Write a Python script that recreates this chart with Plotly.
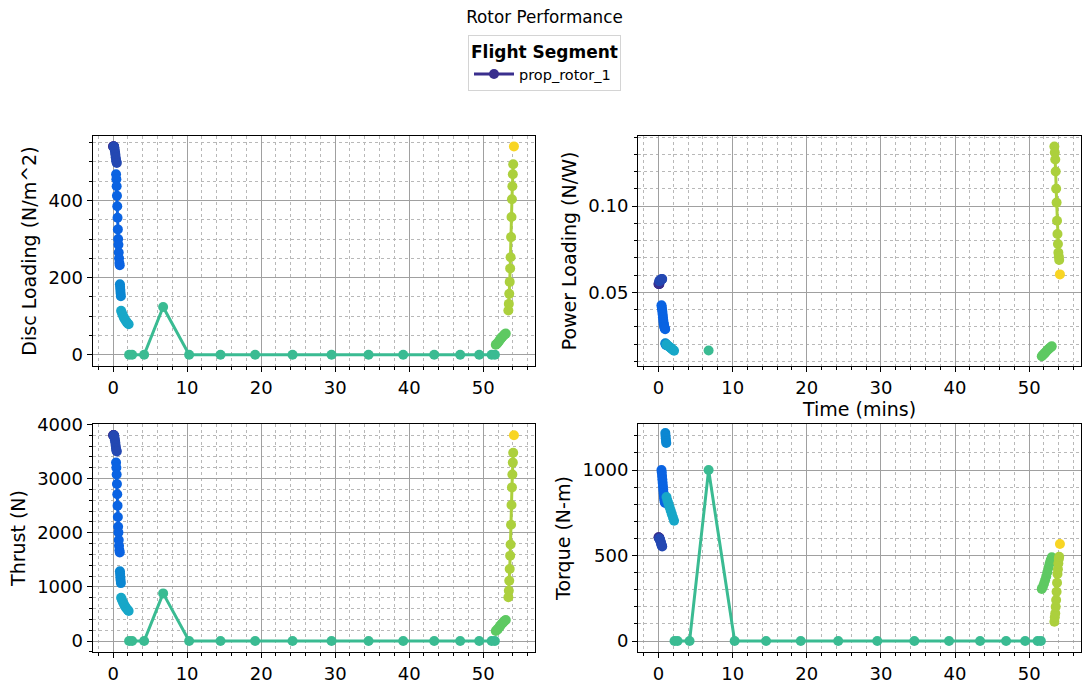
import plotly.graph_objects as go

# ---------------- data ----------------
segment_colors = ["#3a2f8e", "#2448b2", "#0a63e2", "#0b87d2", "#17a7c8",
                  "#3abb92", "#5ec962", "#acd03d", "#f8d523"]

seg_time = [
    [0.0, 0.03, 0.06, 0.09, 0.12],
    [0.10, 0.15, 0.20, 0.25, 0.30, 0.35, 0.40, 0.45, 0.50],
    [0.40, 0.44, 0.48, 0.52, 0.56, 0.60, 0.64, 0.68, 0.72, 0.76, 0.80, 0.85, 0.90],
    [0.92, 0.95, 0.98, 1.01, 1.05],
    [1.08, 1.20, 1.35, 1.50, 1.65, 1.80, 1.95, 2.10],
    [2.16, 2.57, 4.19, 6.76, 10.27, 14.51, 19.19, 24.24, 29.51, 34.51, 39.19,
     43.38, 46.89, 49.46, 51.14, 51.58],
    [51.70, 51.85, 52.00, 52.15, 52.30, 52.45, 52.60, 52.75, 52.90, 53.05],
    [53.40, 53.46, 53.52, 53.58, 53.64, 53.70, 53.76, 53.82, 53.88, 53.94, 54.00, 54.05],
    [54.15],
]

disc_loading = [
    [540, 540, 540, 540, 540],
    [540, 538, 533, 527, 520, 512, 505, 500, 497],
    [468, 455, 437, 412, 385, 355, 325, 300, 285, 265, 250, 238, 232],
    [183, 176, 168, 160, 152],
    [114, 108, 101, 95, 90, 86, 82, 79],
    [0, 0, 0, 124, 0, 0, 0, 0, 0, 0, 0, 0, 0, 0, 0, 0],
    [26, 29, 32, 36, 40, 44, 47, 50, 53, 55],
    [115, 132, 158, 189, 224, 253, 305, 357, 403, 437, 468, 494],
    [540],
]

power_loading = [
    [0.0548, 0.0548, 0.0548, 0.0548, 0.0548],
    [0.0565, 0.0567, 0.0569, 0.0571, 0.0573, 0.0574, 0.0575, 0.0576, 0.0577],
    [0.0425, 0.0415, 0.0402, 0.0388, 0.0372, 0.0356, 0.0340, 0.0325, 0.0315,
     0.0305, 0.0297, 0.0290, 0.0286],
    [0.0205, 0.0202, 0.0199, 0.0196, 0.0193],
    [0.0198, 0.0193, 0.0188, 0.0183, 0.0178, 0.0172, 0.0167, 0.0162],
    [None, None, None, 0.0163, None, None, None, None, None, None, None,
     None, None, None, None, None],
    [0.0130, 0.0137, 0.0143, 0.0150, 0.0157, 0.0164, 0.0170, 0.0176, 0.0182, 0.0187],
    [0.1345, 0.131, 0.127, 0.120, 0.110, 0.102, 0.0915, 0.0838, 0.078, 0.073,
     0.0708, 0.0688],
    [0.0604],
]

thrust = [
    [3800, 3800, 3800, 3800, 3800],
    [3800, 3785, 3750, 3710, 3660, 3605, 3555, 3520, 3500],
    [3295, 3200, 3075, 2900, 2710, 2500, 2290, 2110, 2005, 1865, 1760, 1675, 1635],
    [1290, 1240, 1180, 1125, 1070],
    [800, 760, 712, 668, 634, 605, 577, 556],
    [0, 0, 0, 880, 0, 0, 0, 0, 0, 0, 0, 0, 0, 0, 0, 0],
    [185, 205, 225, 255, 280, 310, 330, 352, 373, 387],
    [810, 930, 1112, 1330, 1577, 1781, 2147, 2513, 2837, 3076, 3295, 3478],
    [3800],
]

torque = [
    [607, 606, 605, 604, 603],
    [600, 597, 592, 586, 579, 571, 563, 557, 553],
    [1000, 985, 965, 945, 925, 905, 885, 865, 850, 835, 822, 812, 807],
    [1216, 1200, 1185, 1170, 1158],
    [842, 822, 802, 782, 762, 742, 722, 703],
    [0, 0, 0, 1000, 0, 0, 0, 0, 0, 0, 0, 0, 0, 0, 0, 0],
    [305, 318, 335, 355, 378, 402, 428, 452, 472, 490],
    [113, 140, 162, 200, 240, 288, 341, 392, 420, 454, 480, 493],
    [567],
]

legend_name = "prop_rotor_1"

# ---------------- figure ----------------
FONT = "DejaVu Sans"
TICK_SIZE = 18
AXTITLE_SIZE = 19
fig = go.Figure()

panels = [
    (disc_loading, "x", "y"),
    (power_loading, "x2", "y2"),
    (thrust, "x3", "y3"),
    (torque, "x4", "y4"),
]

for p, (values, xa, ya) in enumerate(panels):
    for i, color in enumerate(segment_colors):
        fig.add_trace(go.Scatter(
            x=seg_time[i], y=values[i], mode="lines+markers",
            xaxis=xa, yaxis=ya,
            line=dict(color=color, width=3),
            marker=dict(color=color, size=10),
            name=legend_name,
            showlegend=(p == 0 and i == 0),
            connectgaps=False,
        ))

def xax(domain, rng, anchor, title=None):
    d = dict(domain=domain, range=rng, dtick=10, tick0=0, anchor=anchor,
             automargin=False,
             showline=True, mirror=True, linecolor="black", linewidth=1.2,
             ticks="outside", ticklen=5, tickcolor="black",
             showgrid=True, gridcolor="#a0a0a0", gridwidth=1,
             zeroline=False,
             tickfont=dict(family=FONT, size=TICK_SIZE, color="black"),
             minor=dict(dtick=2, ticks="outside", ticklen=3, tickcolor="black",
                        showgrid=True, gridcolor="#b8b8b8", griddash="dot", gridwidth=0.8))
    if title:
        d["title"] = dict(text=title, font=dict(family=FONT, size=AXTITLE_SIZE, color="black"),
                          standoff=4)
    return d

def yax(domain, rng, dtick, minor_dtick, anchor, title, fmt=None):
    d = dict(domain=domain, range=rng, dtick=dtick, tick0=0, anchor=anchor,
             automargin=False,
             showline=True, mirror=True, linecolor="black", linewidth=1.2,
             ticks="outside", ticklen=5, tickcolor="black",
             showgrid=True, gridcolor="#a0a0a0", gridwidth=1,
             zeroline=False,
             tickfont=dict(family=FONT, size=TICK_SIZE, color="black"),
             title=dict(text=title, font=dict(family=FONT, size=AXTITLE_SIZE, color="black"),
                        standoff=6),
             minor=dict(dtick=minor_dtick, ticks="outside", ticklen=3, tickcolor="black",
                        showgrid=True, gridcolor="#b8b8b8", griddash="dot", gridwidth=0.8))
    if fmt:
        d["tickformat"] = fmt
    return d

XL = [0.0851, 0.4913]
XR = [0.5859, 0.9927]
YT = [0.4703, 0.8032]
YB = [0.0564, 0.3864]
XRANGE = [-2.76, 57.0]

fig.update_layout(
    width=1089, height=691,
    margin=dict(l=0, r=0, t=0, b=0, autoexpand=False),
    paper_bgcolor="white", plot_bgcolor="white",
    font=dict(family=FONT, color="black"),
    title=dict(text="Rotor Performance", x=0.5, xanchor="center",
               y=1 - 17 / 691, yanchor="middle", yref="container",
               font=dict(family=FONT, size=16.8, color="black")),
    showlegend=True,
    legend=dict(x=0.5, xanchor="center", y=1 - 35 / 691, yanchor="top",
                bordercolor="#d4d4d4", borderwidth=1, bgcolor="white",
                font=dict(family=FONT, size=14.5, color="black"),
                itemwidth=40,
                title=dict(text="<b>Flight Segment</b>", side="top center",
                           font=dict(family=FONT, size=17, color="black"))),
    xaxis=xax(XL, XRANGE, "y"),
    yaxis=yax(YT, [-29, 567], 200, 50, "x", "Disc Loading (N/m^2)"),
    xaxis2=xax(XR, XRANGE, "y2", "Time (mins)"),
    yaxis2=yax(YT, [0.0073, 0.1406], 0.05, 0.01, "x2", "Power Loading (N/W)", ".2f"),
    xaxis3=xax(XL, XRANGE, "y3"),
    yaxis3=yax(YB, [-203, 4008], 1000, 200, "x3", "Thrust (N)"),
    xaxis4=xax(XR, XRANGE, "y4"),
    yaxis4=yax(YB, [-64, 1269], 500, 100, "x4", "Torque (N-m)"),
)

fig.write_html("out.html")
